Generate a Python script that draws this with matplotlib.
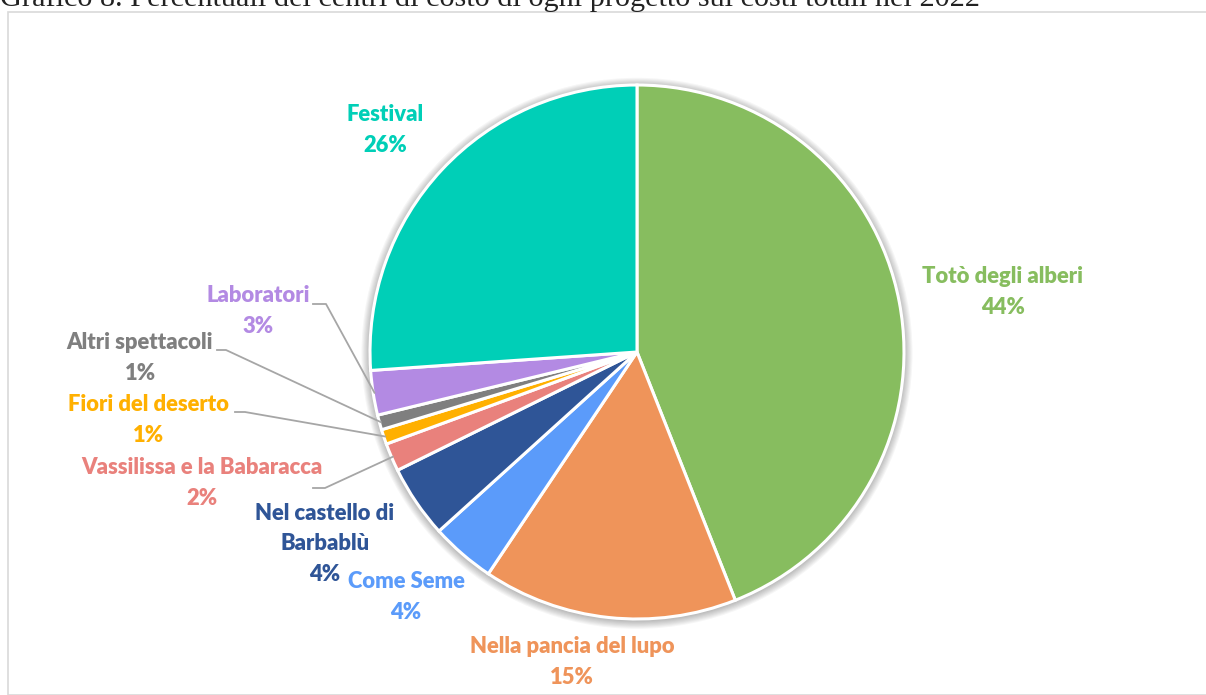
import matplotlib.pyplot as plt
from matplotlib.patches import Rectangle, Circle
import numpy as np

# Centri di costo 2022 (quota percentuale sui costi totali)
progetti = ["Totò degli alberi", "Nella pancia del lupo", "Come Seme",
            "Nel castello di\nBarbablù", "Vassilissa e la Babaracca",
            "Fiori del deserto", "Altri spettacoli", "Laboratori", "Festival"]
quote = [44.0, 15.4, 3.9, 4.4, 1.7, 0.9, 0.9, 2.7, 26.1]
colori = ["#87BD5F", "#EF945A", "#5B9BFA", "#2F5597", "#E9817C",
          "#FFB000", "#7F7F7F", "#B38AE3", "#00CFB7"]

# centro e raggio della torta in pixel
CX, CY, R = 637, 352, 267
W, H = 1206, 695


def px(x, y):
    return (x - CX) / R, (CY - y) / R


fig = plt.figure(figsize=(W / 100, H / 100), dpi=100)
ax = fig.add_axes([0, 0, 1, 1])

# cornice grigia del grafico
fig.patches.append(Rectangle((8 / W, 0), 1.2, 1 - 12 / H, transform=fig.transFigure,
                             fill=False, edgecolor="#D9D9D9", lw=1.2, zorder=0))

# titolo (tagliato in alto)
fig.text(0.0, 1 - 6 / H, "Grafico 8. Percentuali dei centri di costo di ogni progetto sui costi totali nel 2022",
         family="Liberation Serif", fontsize=21.8, va="baseline", ha="left", color="#222222")

# ombra morbida attorno alla torta
for i in range(8):
    ax.add_patch(Circle((0, -0.005), 1.0 + 0.004 * (i + 1), color="black",
                        alpha=0.035, lw=0, zorder=1))

wedges, _ = ax.pie(quote, colors=colori, startangle=90, counterclock=False, radius=1,
                   wedgeprops=dict(edgecolor="white", linewidth=2.2, zorder=2))

ax.set_xlim(px(0, 0)[0], px(W, 0)[0])
ax.set_ylim(px(0, H)[1], px(0, 0)[1])
ax.axis("off")

# posizione delle etichette (centro del blocco di testo, pixel)
pos_etichette = [(1003, 292), (572, 662), (406, 597), (325, 544), (202, 483),
                 (148, 420), (140, 358), (258, 311), (385, 130)]
# etichette con linea guida: punto di partenza della linea (pixel)
guide = {7: (313, 304, 326), 6: (217, 350, 226), 5: (235, 412, 245), 4: (313, 488, 325)}

for i, (w, nome, q, col) in enumerate(zip(wedges, progetti, quote, colori)):
    x, y = px(*pos_etichette[i])
    ax.text(x, y, f"{nome}\n{round(q):.0f}%", ha="center", va="center",
            color=col, fontsize=15.8, fontweight="heavy", family="Lato",
            linespacing=1.55, zorder=5)
    if i in guide:
        x0, y0, x1 = guide[i]
        ang = np.deg2rad((w.theta1 + w.theta2) / 2)
        xe, ye = 0.995 * np.cos(ang), 0.995 * np.sin(ang)
        a, b = px(x0, y0)
        c, _ = px(x1, y0)
        ax.plot([a, c, xe], [b, b, ye], color="#A6A6A6", lw=1.3, zorder=3)

fig.savefig("out.png", dpi=100)
